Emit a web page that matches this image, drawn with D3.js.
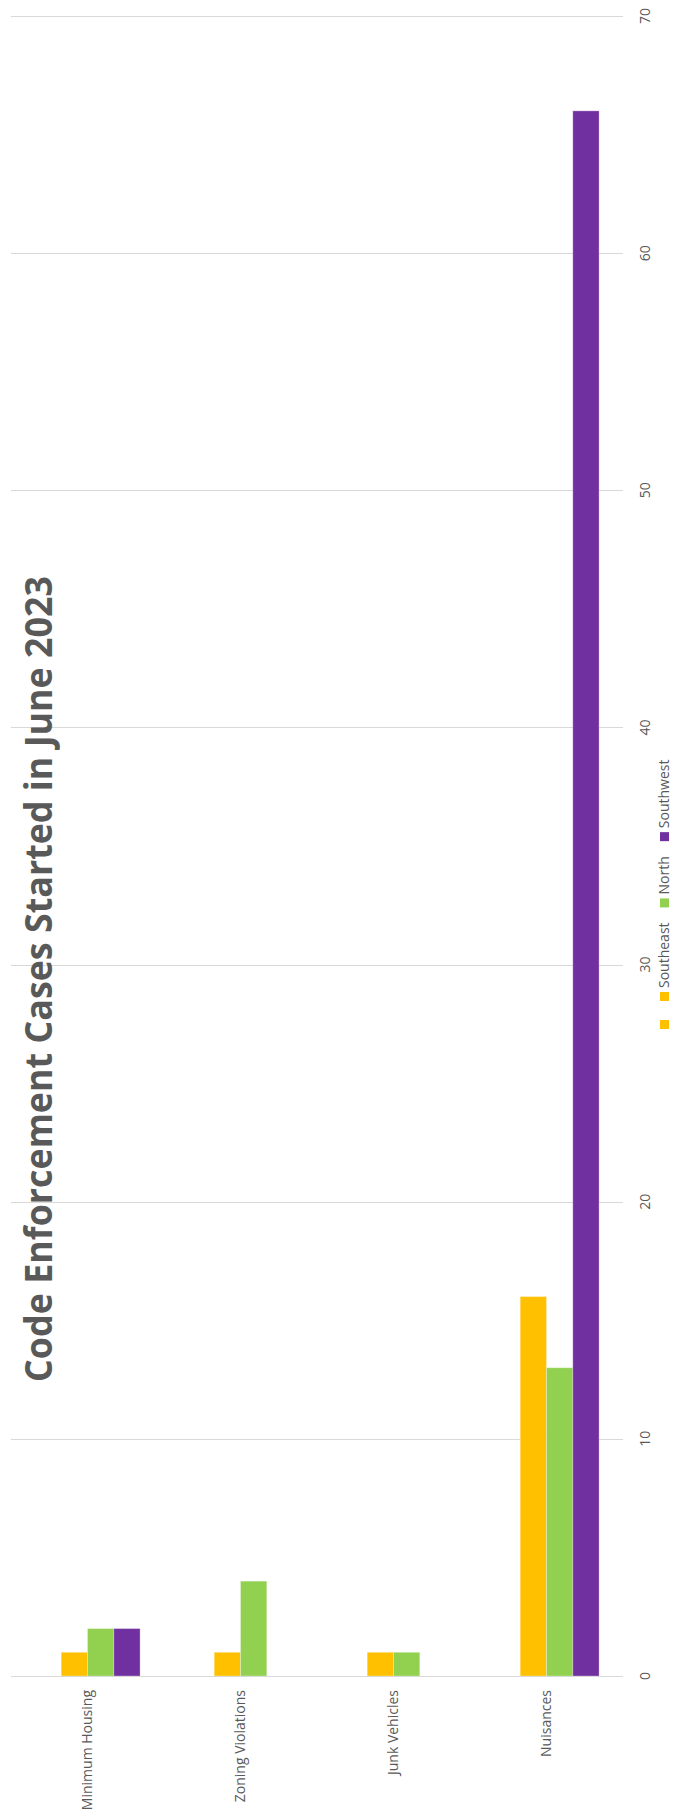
<!DOCTYPE html>
<html>
<head>
<meta charset="utf-8">
<script src="https://cdn.jsdelivr.net/npm/d3@7"></script>
<style>
  html, body { margin: 0; padding: 0; background: #fff; }
  svg { display: block; }
  text { font-family: "Open Sans", "Noto Sans", sans-serif; fill: #595959; }
</style>
</head>
<body>
<div id="chart"></div>
<script>
// ---- data ----
const categories = ["Minimum Housing", "Zoning Violations", "Junk Vehicles", "Nuisances"];
const seriesNames = ["", "Southeast", "North", "Southwest"];   // first series is an unnamed, empty one
const blankSeries = [null, null, null, null];
const southeast = [1, 1, 1, 16];
const north = [2, 4, 1, 13];
const southwest = [2, null, null, 66];
const tickValues = [0, 10, 20, 30, 40, 50, 60, 70];
const titleText = "Code Enforcement Cases Started in June 2023";

const seriesValues = [blankSeries, southeast, north, southwest];
const seriesColors = ["#FFC000", "#FFC000", "#92D050", "#7030A0"];

// ---- layout ----
const W = 676, H = 1818;
const plotLeft = 11, plotRight = 623, yTop = 16, yBottom = 1676;

const svg = d3.select("#chart").append("svg")
  .attr("width", W).attr("height", H);
svg.append("rect").attr("width", W).attr("height", H).attr("fill", "#fff");

const y = d3.scaleLinear().domain([0, 70]).range([yBottom, yTop]);
const x0 = d3.scaleBand().domain(categories).range([plotLeft, plotRight])
  .paddingInner(0.3125).paddingOuter(0.15625);
const x1 = d3.scaleBand().domain(d3.range(seriesNames.length)).range([0, x0.bandwidth()]);

// gridlines
svg.append("g").selectAll("line").data(tickValues).join("line")
  .attr("x1", plotLeft).attr("x2", plotRight)
  .attr("y1", d => Math.round(y(d)) + 0.5).attr("y2", d => Math.round(y(d)) + 0.5)
  .attr("stroke", "#d9d9d9").attr("stroke-width", 1);

// bars
const barData = [];
seriesValues.forEach((vals, si) => {
  vals.forEach((v, ci) => {
    if (v != null) barData.push({ si, cat: categories[ci], v });
  });
});
svg.append("g").selectAll("rect").data(barData).join("rect")
  .attr("x", d => x0(d.cat) + x1(d.si))
  .attr("width", x1.bandwidth())
  .attr("y", d => y(d.v))
  .attr("height", d => y(0) - y(d.v))
  .attr("fill", d => seriesColors[d.si])
  .attr("stroke", "#ffffff").attr("stroke-opacity", 0.3).attr("stroke-width", 1);

// baseline redraw on top
svg.append("line")
  .attr("x1", plotLeft).attr("x2", plotRight)
  .attr("y1", Math.round(y(0)) + 0.5).attr("y2", Math.round(y(0)) + 0.5)
  .attr("stroke", "#d9d9d9").attr("stroke-width", 1);

// value axis tick labels (right side, rotated)
svg.append("g").selectAll("text").data(tickValues).join("text")
  .attr("transform", d => `translate(645,${y(d)}) rotate(-90)`)
  .attr("text-anchor", "middle").attr("dy", "0.35em")
  .style("font-size", "14px")
  .text(d => d);

// category labels (rotated)
svg.append("g").selectAll("text").data(categories).join("text")
  .attr("transform", d => `translate(${x0(d) + x0.bandwidth() / 2},1690) rotate(-90)`)
  .attr("text-anchor", "end").attr("dy", "0.35em")
  .style("font-size", "14px")
  .text(d => d);

// title
svg.append("text")
  .attr("transform", "translate(52,979) rotate(-90)")
  .attr("text-anchor", "middle")
  .attr("textLength", 806).attr("lengthAdjust", "spacingAndGlyphs")
  .style("font-size", "38px").style("font-weight", "bold")
  .text(titleText);

// legend (reads bottom to top)
const legendX = 664.5, markerSize = 9;
let cursor = 1029;
seriesNames.forEach((name, i) => {
  svg.append("rect")
    .attr("x", legendX - markerSize / 2).attr("y", cursor - markerSize)
    .attr("width", markerSize).attr("height", markerSize)
    .attr("fill", seriesColors[i]);
  cursor -= markerSize + 4;
  const t = svg.append("text")
    .attr("transform", `translate(${legendX},${cursor}) rotate(-90)`)
    .attr("text-anchor", "start").attr("dy", "0.35em")
    .style("font-size", "14px")
    .text(name);
  cursor -= (name ? t.node().getComputedTextLength() : 0) + 15;
});
</script>
</body>
</html>
